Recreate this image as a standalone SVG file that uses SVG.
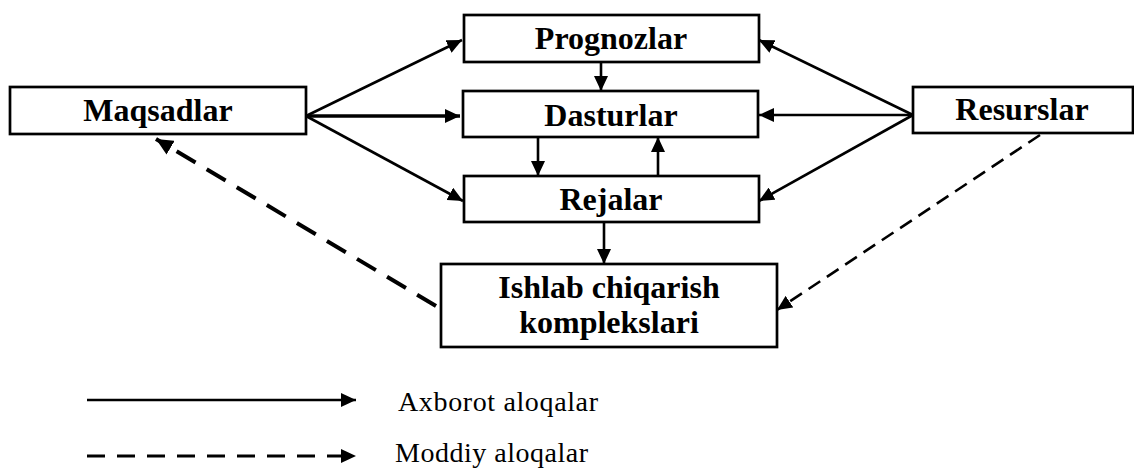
<svg xmlns="http://www.w3.org/2000/svg" width="1134" height="468" viewBox="0 0 1134 468">
<style>
.box{fill:#fff;stroke:#000;stroke-width:2.7}
.t{font-weight:bold;font-size:32px;fill:#000;text-anchor:middle}
.lg{font-size:28px;fill:#000}
.c{fill:none;stroke:#000;stroke-width:2.6}
.ar{marker-end:url(#ah)}
.d1{stroke-width:4;stroke-dasharray:22 13}
.d2{stroke-width:2.6;stroke-dasharray:14 8}
.d3{stroke-width:3;stroke-dasharray:18 12}
</style>
<defs>
<marker id="ah" markerUnits="userSpaceOnUse" markerWidth="16" markerHeight="14" refX="15" refY="7" orient="auto">
<path d="M0,0 L15,7 L0,14 z" fill="#000"/>
</marker>
<marker id="ah2" markerUnits="userSpaceOnUse" markerWidth="18" markerHeight="16" refX="17" refY="8" orient="auto">
<path d="M0,0 L17,8 L0,16 z" fill="#000"/>
</marker>
</defs>
<g id="connectors">
<line class="c ar" x1="306" y1="116" x2="462" y2="40"/>
<line class="c ar" x1="306" y1="116" x2="460" y2="116" style="stroke-width:3.4"/>
<line class="c ar" x1="306" y1="116" x2="463" y2="201"/>
<line class="c ar" x1="913" y1="115" x2="759" y2="40"/>
<line class="c ar" x1="913" y1="115" x2="759" y2="115"/>
<line class="c ar" x1="913" y1="115" x2="759" y2="201"/>
<line class="c ar" x1="601" y1="62" x2="601" y2="91"/>
<line class="c ar" x1="538" y1="137" x2="538" y2="176"/>
<line class="c ar" x1="658" y1="176" x2="658" y2="137"/>
<line class="c ar" x1="604" y1="222" x2="604" y2="264"/>
<line class="c d1" x1="436" y1="306" x2="156" y2="139" marker-end="url(#ah2)"/>
<line class="c d2 ar" x1="1040" y1="135" x2="777" y2="310"/>
<line class="c ar" x1="87" y1="400" x2="356" y2="400"/>
<line class="c d3 ar" x1="87" y1="456" x2="356" y2="456"/>
</g>
<g font-family="Liberation Serif, DejaVu Serif, serif">
<g id="maqsadlar"><rect class="box" x="10" y="87" width="296" height="47"/><text class="t" x="158" y="121">Maqsadlar</text></g>
<g id="prognozlar"><rect class="box" x="464" y="15" width="295" height="47"/><text class="t" x="611" y="49">Prognozlar</text></g>
<g id="dasturlar"><rect class="box" x="463" y="91" width="295" height="46"/><text class="t" x="611" y="126">Dasturlar</text></g>
<g id="rejalar"><rect class="box" x="464" y="176" width="295" height="46"/><text class="t" x="611" y="210">Rejalar</text></g>
<g id="resurslar"><rect class="box" x="913" y="87" width="220" height="46"/><text class="t" x="1022" y="120">Resurslar</text></g>
<g id="ishlab"><rect class="box" x="441" y="264" width="336" height="83"/><text class="t" x="609" y="298">Ishlab chiqarish</text><text class="t" x="609" y="333">komplekslari</text></g>
<g id="legend">
<text class="lg" x="398" y="411" textLength="200">Axborot aloqalar</text>
<text class="lg" x="395" y="462" textLength="193">Moddiy aloqalar</text>
</g>
</g>
</svg>
